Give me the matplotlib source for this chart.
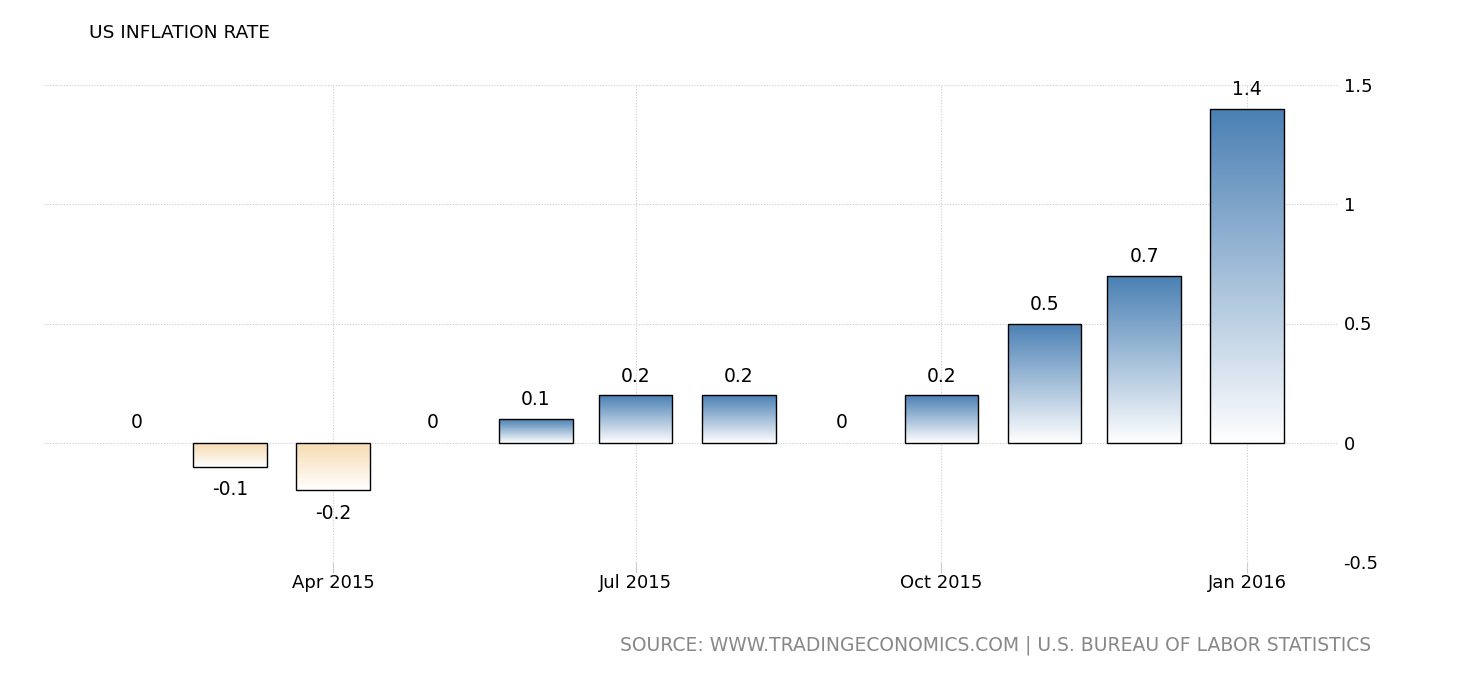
import datetime as dt
import numpy as np
import matplotlib
matplotlib.use("Agg")
import matplotlib.pyplot as plt
import matplotlib.dates as mdates
from matplotlib.colors import LinearSegmentedColormap
from matplotlib.patches import Rectangle

# data: monthly US inflation rate (%)
months = ["2015-02", "2015-03", "2015-04", "2015-05", "2015-06", "2015-07",
          "2015-08", "2015-09", "2015-10", "2015-11", "2015-12", "2016-01"]
values = [0, -0.1, -0.2, 0, 0.1, 0.2, 0.2, 0, 0.2, 0.5, 0.7, 1.4]
tick_dates = ["2015-04", "2015-07", "2015-10", "2016-01"]
tick_labels = ["Apr 2015", "Jul 2015", "Oct 2015", "Jan 2016"]
y_ticks = [-0.5, 0, 0.5, 1, 1.5]
y_tick_labels = ["-0.5", "0", "0.5", "1", "1.5"]

dates = [dt.datetime.strptime(m, "%Y-%m") for m in months]
xt = [mdates.date2num(dt.datetime.strptime(t, "%Y-%m")) for t in tick_dates]
xs = mdates.date2num(dates)

blue_cmap = LinearSegmentedColormap.from_list("blue", ["#ffffff", "#4a80b4"])
tan_cmap = LinearSegmentedColormap.from_list("tan", ["#ffffff", "#f6dbb0"])

fig = plt.figure(figsize=(14.6, 6.8), dpi=100)
ax = fig.add_axes([44 / 1460, 1 - 562 / 680, (1338 - 44) / 1460, (562 - 85) / 680])

px_per_day = 3.325
apr1 = mdates.date2num(dt.datetime(2015, 4, 1))
x_left = apr1 - (333 - 44) / px_per_day
x_right = apr1 + (1338 - 333) / px_per_day

width = 22.2
fs = 13.5
grad = np.linspace(0, 1, 256).reshape(-1, 1)
for x, v in zip(xs, values):
    if v == 0:
        ax.text(x, 0.045, "0", ha="center", va="bottom", fontsize=fs)
        continue
    rect = Rectangle((x - width / 2, min(0, v)), width, abs(v),
                     facecolor="none", edgecolor="black", linewidth=1, zorder=3)
    ax.add_patch(rect)
    if v > 0:
        im = ax.imshow(grad, cmap=blue_cmap, aspect="auto", origin="lower",
                       extent=(x - width / 2, x + width / 2, 0, v), zorder=2)
        ax.text(x, v + 0.04, f"{v:g}", ha="center", va="bottom", fontsize=fs)
    else:
        im = ax.imshow(grad, cmap=tan_cmap, aspect="auto", origin="lower",
                       extent=(x - width / 2, x + width / 2, v, 0), zorder=2)
        ax.text(x, v - 0.055, f"{v:g}", ha="center", va="top", fontsize=fs)
    im.set_clip_path(rect)

ax.set_xlim(x_left, x_right)
ax.set_ylim(-0.5, 1.5)

ax.set_xticks(xt)
ax.set_xticklabels(tick_labels, fontsize=13)
ax.set_yticks(y_ticks)
ax.set_yticklabels(y_tick_labels, fontsize=13)
ax.yaxis.tick_right()
ax.tick_params(axis="y", length=0, pad=4)
ax.tick_params(axis="x", length=8, color="#cccccc", pad=1)
ax.grid(True, color="#cccccc", linestyle=(0, (1, 1.5)), linewidth=0.8, zorder=0)
ax.set_axisbelow(True)
for s in ax.spines.values():
    s.set_visible(False)

fig.text(89 / 1460, 1 - 33 / 680, "US INFLATION RATE", fontsize=13.3, va="center", ha="left")
fig.text(1371 / 1460, 1 - 645 / 680,
         "SOURCE: WWW.TRADINGECONOMICS.COM | U.S. BUREAU OF LABOR STATISTICS",
         fontsize=13.5, color="#888888", va="center", ha="right")

fig.savefig("out.png", dpi=100, facecolor="white")
